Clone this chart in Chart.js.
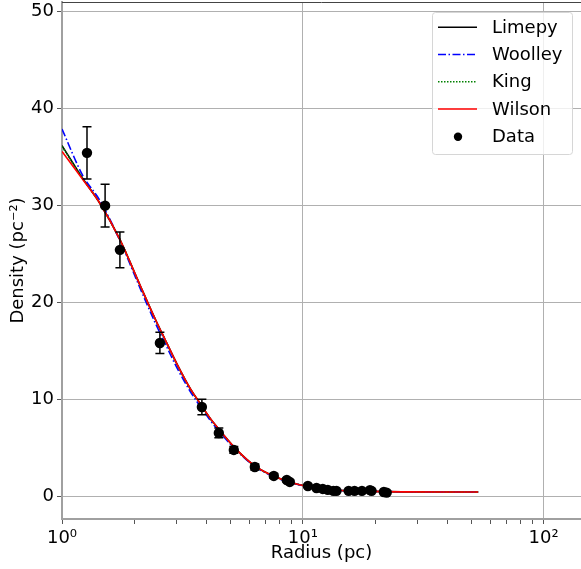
<!DOCTYPE html>
<html>
<head>
<meta charset="utf-8">
<script src="https://cdn.jsdelivr.net/npm/chart.js@4/dist/chart.umd.min.js"></script>
<style>
  body { margin: 0; background: #fff; }
  canvas { display: block; }
</style>
</head>
<body>
<canvas id="densityChart" width="581" height="569"></canvas>
<script>
// observed surface density with errors
var radius = [1.27, 1.51, 1.74, 2.55, 3.81, 4.48, 5.17, 6.32, 7.58, 8.58, 8.83, 10.5, 11.4, 12.1, 12.7, 13.4, 13.8, 15.5, 16.4, 17.6, 19.0, 19.3, 21.7, 22.3];
var density = [35.45, 30.0, 25.45, 15.85, 9.25, 6.57, 4.82, 3.06, 2.14, 1.72, 1.52, 1.1, 0.9, 0.8, 0.7, 0.6, 0.6, 0.6, 0.6, 0.6, 0.68, 0.6, 0.48, 0.42];
var densityErr = [2.7, 2.2, 1.85, 1.1, 0.8, 0.5, 0.35, 0.3, 0.25, 0.2, 0.2, 0.15, 0.15, 0.12, 0.12, 0.1, 0.1, 0.1, 0.1, 0.1, 0.1, 0.1, 0.1, 0.1];

// model profiles sampled off the figure
var modelRadius = [1.0, 1.22, 1.44, 1.74, 2.11, 2.43, 2.68, 3.0, 3.4, 3.75, 4.12, 4.54, 5.33, 6.34, 7.6, 8.86, 10.5, 13.0, 19.0, 53.5];
var limepy  = [36.2, 32.8, 30.2, 26.5, 21.8, 18.4, 16.2, 13.7, 11.2, 9.6, 8.1, 6.8, 4.8, 3.15, 2.1, 1.5, 1.05, 0.72, 0.55, 0.48];
var woolley = [37.9, 33.1, 30.5, 26.4, 21.5, 18.0, 15.8, 13.3, 10.9, 9.3, 7.9, 6.6, 4.7, 3.1, 2.05, 1.48, 1.04, 0.72, 0.55, 0.48];
var king    = [36.1, 32.8, 30.2, 26.5, 21.75, 18.35, 16.15, 13.65, 11.15, 9.55, 8.05, 6.75, 4.78, 3.13, 2.09, 1.5, 1.05, 0.72, 0.55, 0.48];
var wilson  = [35.6, 32.7, 30.2, 26.5, 21.8, 18.4, 16.2, 13.7, 11.2, 9.6, 8.1, 6.8, 4.8, 3.15, 2.1, 1.5, 1.05, 0.72, 0.55, 0.48];

var xMajorTicks = [1, 10, 100];
var xTickLabels = ['10\u2070', '10\u00b9', '10\u00b2'];
var yTicks = [0, 10, 20, 30, 40, 50];

var legendItems = ['Limepy', 'Woolley', 'King', 'Wilson', 'Data'];

function pairs(xs, ys) {
  var out = [];
  for (var i = 0; i < xs.length; i++) out.push({x: xs[i], y: ys[i]});
  return out;
}

function isNiceLog(v) {
  var e = Math.floor(Math.log10(v) + 1e-9);
  var s = v / Math.pow(10, e);
  return Math.abs(s - Math.round(s)) < 1e-6 && v <= 100 + 1e-6;
}

function modelSet(label, ys, color, dash, order) {
  return {
    label: label,
    data: pairs(modelRadius, ys),
    borderColor: color,
    borderWidth: 1.6,
    borderDash: dash,
    pointRadius: 0,
    fill: false,
    cubicInterpolationMode: 'monotone',
    order: order
  };
}

// no extra room for the edge tick labels, the plot runs to the canvas edge
function noEdgePadding(scale) {
  scale.paddingTop = 0;
  scale.paddingBottom = 0;
  scale.paddingLeft = 0;
  scale.paddingRight = 0;
}

var extras = {
  id: 'extras',
  afterDatasetsDraw: function(chart) {
    var ctx = chart.ctx;
    var xs = chart.scales.x, ys = chart.scales.y;
    // error bars
    ctx.save();
    ctx.strokeStyle = '#000';
    ctx.lineWidth = 1.5;
    for (var i = 0; i < radius.length; i++) {
      var px = xs.getPixelForValue(radius[i]);
      var top = ys.getPixelForValue(density[i] + densityErr[i]);
      var bot = ys.getPixelForValue(density[i] - densityErr[i]);
      ctx.beginPath();
      ctx.moveTo(px, top); ctx.lineTo(px, bot);
      ctx.moveTo(px - 4.5, top); ctx.lineTo(px + 4.5, top);
      ctx.moveTo(px - 4.5, bot); ctx.lineTo(px + 4.5, bot);
      ctx.stroke();
    }
    ctx.restore();
  },
  afterDraw: function(chart) {
    var ctx = chart.ctx;
    var area = chart.chartArea;
    ctx.save();
    // top spine
    ctx.strokeStyle = '#444';
    ctx.lineWidth = 1;
    ctx.beginPath();
    ctx.moveTo(area.left, area.top + 0.5);
    ctx.lineTo(area.right, area.top + 0.5);
    ctx.stroke();

    // legend box
    var bx = 432, by = 12, bw = 140, bh = 142;
    ctx.fillStyle = 'rgba(255,255,255,0.8)';
    ctx.strokeStyle = '#d6d6d6';
    ctx.lineWidth = 1;
    ctx.beginPath();
    ctx.roundRect(bx + 0.5, by + 0.5, bw, bh, 3);
    ctx.fill();
    ctx.stroke();

    var rows = [27.3, 54.5, 81.8, 109, 136.7];
    var sets = chart.data.datasets;
    ctx.font = '18px "DejaVu Sans"';
    ctx.textBaseline = 'middle';
    ctx.textAlign = 'left';
    for (var i = 0; i < legendItems.length; i++) {
      var ds = sets[i];
      var ry = rows[i];
      if (ds.showLine === false) {
        ctx.fillStyle = '#000';
        ctx.beginPath();
        ctx.arc(458, ry, 4.2, 0, Math.PI * 2);
        ctx.fill();
      } else {
        ctx.strokeStyle = ds.borderColor;
        ctx.lineWidth = ds.borderWidth;
        ctx.setLineDash(ds.borderDash || []);
        ctx.beginPath();
        ctx.moveTo(438, ry);
        ctx.lineTo(477, ry);
        ctx.stroke();
        ctx.setLineDash([]);
      }
      ctx.fillStyle = '#000';
      ctx.fillText(legendItems[i], 492, ry + 1);
    }
    ctx.restore();
  }
};

Chart.defaults.font.family = '"DejaVu Sans", sans-serif';
Chart.defaults.font.size = 18;
Chart.defaults.color = '#000';

new Chart(document.getElementById('densityChart'), {
  type: 'line',
  data: {
    datasets: [
      modelSet('Limepy', limepy, '#000000', [], 4),
      modelSet('Woolley', woolley, '#0000ff', [8, 2.5, 1.5, 2.5], 3),
      modelSet('King', king, '#008000', [1.5, 1.5], 2),
      modelSet('Wilson', wilson, '#ff0000', [], 1),
      {
        label: 'Data',
        data: pairs(radius, density),
        showLine: false,
        pointRadius: 5.2,
        pointBackgroundColor: '#000',
        pointBorderColor: '#000',
        pointBorderWidth: 0,
        order: 0
      }
    ]
  },
  options: {
    responsive: false,
    animation: false,
    devicePixelRatio: 1,
    layout: { autoPadding: false, padding: { top: 2, right: 0, left: 0, bottom: 0 } },
    plugins: {
      legend: { display: false },
      tooltip: { enabled: false }
    },
    scales: {
      x: {
        type: 'logarithmic',
        min: 1,
        max: 143,
        afterBuildTicks: function(scale) {
          scale.ticks = scale.ticks.filter(function(t) { return isNiceLog(t.value); });
        },
        afterFit: function(scale) { scale.height = 50; noEdgePadding(scale); },
        grid: {
          color: function(c) {
            return c.tick && xMajorTicks.indexOf(c.tick.value) >= 0 ? '#b0b0b0' : 'rgba(0,0,0,0)';
          },
          tickColor: '#555',
          tickLength: 5,
          lineWidth: 1
        },
        border: { color: '#a0a0a0', width: 2 },
        ticks: {
          autoSkip: false,
          maxRotation: 0,
          padding: 4,
          callback: function(v) {
            var k = xMajorTicks.indexOf(v);
            return k >= 0 ? xTickLabels[k] : '';
          }
        },
        title: {
          display: true,
          text: 'Radius (pc)',
          padding: { top: 0, bottom: 5 }
        }
      },
      y: {
        min: -2.3,
        max: 51,
        afterBuildTicks: function(scale) {
          scale.ticks = yTicks.map(function(v) { return {value: v}; });
        },
        afterFit: function(scale) { scale.width = 62; noEdgePadding(scale); },
        grid: { color: '#b0b0b0', tickColor: '#555', tickLength: 5, lineWidth: 1 },
        border: { color: '#a0a0a0', width: 2 },
        ticks: { padding: 3 },
        title: {
          display: true,
          text: 'Density (pc\u207b\u00b2)',
          padding: { top: 8, bottom: 0 }
        }
      }
    }
  },
  plugins: [extras]
});
</script>
</body>
</html>
